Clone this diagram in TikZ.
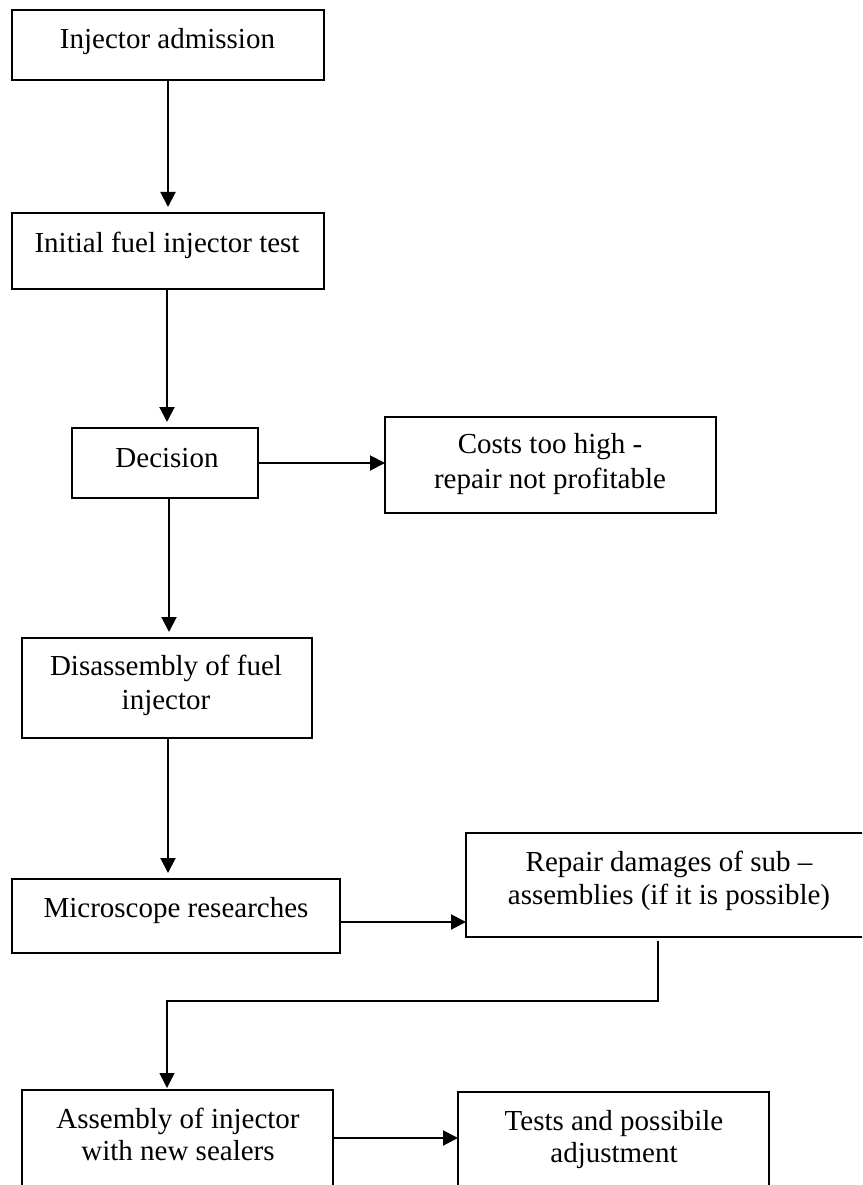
\documentclass[tikz,border=0pt]{standalone}
\usepackage{fontspec}
\setmainfont{Liberation Serif}
\usetikzlibrary{arrows.meta}
\begin{document}
\begin{tikzpicture}[x=1pt,y=-1pt,
  box/.style={draw, line width=1.4pt, rectangle, anchor=north west, inner sep=0pt, outer sep=0pt},
  txt/.style={anchor=base, inner sep=0pt, font=\fontsize{29}{35}\selectfont},
  arr/.style={line width=2pt, -{Triangle[length=15pt,width=15pt]}},
  elbowline/.style={line width=1.4pt, -{Triangle[length=15pt,width=15pt]}}]
\useasboundingbox (0,0) rectangle (862,1185);
\clip (0,0) rectangle (862,1185);
\fill[white] (0,0) rectangle (862,1185);

% boxes
\node[box, minimum width=312pt, minimum height=70pt]  (b1)   at (12,10)   {};
\node[box, minimum width=312pt, minimum height=76pt]  (b2)   at (12,213)  {};
\node[box, minimum width=186pt, minimum height=70pt]  (dec)  at (72,428)  {};
\node[box, minimum width=331pt, minimum height=96pt]  (cost) at (385,417) {};
\node[box, minimum width=290pt, minimum height=100pt] (dis)  at (22,638)  {};
\node[box, minimum width=328pt, minimum height=74pt]  (mic)  at (12,879)  {};
\node[box, minimum width=406pt, minimum height=104pt] (rep)  at (466,833) {};
\node[box, minimum width=311pt, minimum height=140pt] (asm)  at (22,1090) {};
\node[box, minimum width=311pt, minimum height=140pt] (tst)  at (458,1092) {};

% texts
\node[txt] (t1)  at (167.5,49) {Injector admission};
\node[txt] (t2)  at (167,252)  {Initial fuel injector test};
\node[txt] (t3)  at (167,467)  {Decision};
\node[txt] (t4a) at (550,453)  {Costs too high -};
\node[txt] (t4b) at (550,488)  {repair not profitable};
\node[txt] (t5a) at (166,675)  {Disassembly of fuel};
\node[txt] (t5b) at (166,709)  {injector};
\node[txt] (t6)  at (176,917)  {Microscope researches};
\node[txt] (t7a) at (669,871)  {Repair damages of sub –};
\node[txt] (t7b) at (669,904)  {assemblies (if it is possible)};
\node[txt] (t8a) at (178,1128) {Assembly of injector};
\node[txt] (t8b) at (178,1160) {with new sealers};
\node[txt] (t9a) at (614,1130) {Tests and possibile};
\node[txt] (t9b) at (614,1162) {adjustment};

% connectors
\draw[arr, shorten >=6pt] (b1.south) -- (b2.north);
\draw[arr, shorten >=6pt] ([xshift=-1pt]b2.south) -- ([xshift=-1pt]b2.south |- dec.north);
\draw[arr] (dec.east) -- (dec.east -| cost.west);
\draw[arr, shorten >=6pt] ([xshift=4pt]dec.south) -- ([xshift=4pt]dec.south |- dis.north);
\draw[arr, shorten >=6pt] ([xshift=1pt]dis.south) -- ([xshift=1pt]dis.south |- mic.north);
\draw[arr] ([yshift=-6pt]mic.east) -- ([yshift=-6pt]mic.east -| rep.west);
\coordinate (elb) at (400,1001);
\draw[elbowline, shorten >=2pt] ([xshift=-11pt,yshift=-4pt]rep.south) |- (elb) -| ([xshift=-10.5pt]asm.north);
\draw[arr] ([yshift=-48pt]asm.north east) -- ([yshift=-48pt]asm.north east -| tst.west);
\end{tikzpicture}
\end{document}
